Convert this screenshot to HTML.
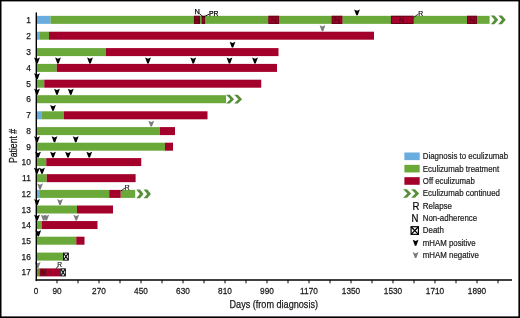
<!DOCTYPE html><html><head><meta charset="utf-8"><style>html,body{margin:0;padding:0;background:#fff;overflow:hidden;}svg{display:block;will-change:transform;}</style></head><body>
<svg width="520" height="318" viewBox="0 0 520 318">
<rect width="520" height="318" fill="#fff"/>
<rect x="37.00" y="15.85" width="13.50" height="8.0" fill="#68ace0"/>
<rect x="50.50" y="15.85" width="143.50" height="8.0" fill="#6aa83a"/>
<rect x="194.00" y="15.85" width="6.00" height="8.0" fill="#a3002b"/>
<rect x="200.00" y="15.85" width="1.70" height="8.0" fill="#6aa83a"/>
<rect x="201.70" y="15.85" width="3.30" height="8.0" fill="#a3002b"/>
<rect x="205.00" y="15.85" width="63.50" height="8.0" fill="#6aa83a"/>
<rect x="268.50" y="15.85" width="10.50" height="8.0" fill="#a3002b"/>
<rect x="279.00" y="15.85" width="52.70" height="8.0" fill="#6aa83a"/>
<rect x="331.70" y="15.85" width="10.60" height="8.0" fill="#a3002b"/>
<rect x="342.30" y="15.85" width="48.70" height="8.0" fill="#6aa83a"/>
<rect x="391.00" y="15.85" width="22.50" height="8.0" fill="#a3002b"/>
<rect x="413.50" y="15.85" width="53.60" height="8.0" fill="#6aa83a"/>
<rect x="467.10" y="15.85" width="9.80" height="8.0" fill="#a3002b"/>
<rect x="476.90" y="15.85" width="12.70" height="8.0" fill="#6aa83a"/>
<rect x="37.00" y="31.70" width="3.00" height="8.0" fill="#68ace0"/>
<rect x="40.00" y="31.70" width="9.00" height="8.0" fill="#6aa83a"/>
<rect x="49.00" y="31.70" width="325.00" height="8.0" fill="#a3002b"/>
<rect x="37.00" y="48.10" width="69.00" height="8.0" fill="#6aa83a"/>
<rect x="106.00" y="48.10" width="172.50" height="8.0" fill="#a3002b"/>
<rect x="37.00" y="63.90" width="19.75" height="8.0" fill="#6aa83a"/>
<rect x="56.75" y="63.90" width="220.25" height="8.0" fill="#a3002b"/>
<rect x="37.00" y="79.70" width="7.25" height="8.0" fill="#6aa83a"/>
<rect x="44.25" y="79.70" width="217.00" height="8.0" fill="#a3002b"/>
<rect x="37.00" y="95.20" width="189.10" height="8.0" fill="#6aa83a"/>
<rect x="37.00" y="111.30" width="4.25" height="8.0" fill="#68ace0"/>
<rect x="41.25" y="111.30" width="22.50" height="8.0" fill="#6aa83a"/>
<rect x="63.75" y="111.30" width="143.75" height="8.0" fill="#a3002b"/>
<rect x="37.00" y="127.10" width="123.00" height="8.0" fill="#6aa83a"/>
<rect x="160.00" y="127.10" width="15.00" height="8.0" fill="#a3002b"/>
<rect x="37.00" y="142.70" width="128.00" height="8.0" fill="#6aa83a"/>
<rect x="165.00" y="142.70" width="8.00" height="8.0" fill="#a3002b"/>
<rect x="37.00" y="158.10" width="9.25" height="8.0" fill="#6aa83a"/>
<rect x="46.25" y="158.10" width="95.00" height="8.0" fill="#a3002b"/>
<rect x="37.00" y="174.15" width="9.75" height="8.0" fill="#6aa83a"/>
<rect x="46.75" y="174.15" width="88.85" height="8.0" fill="#a3002b"/>
<rect x="37.00" y="189.90" width="3.00" height="8.0" fill="#68ace0"/>
<rect x="40.00" y="189.90" width="69.20" height="8.0" fill="#6aa83a"/>
<rect x="109.20" y="189.90" width="11.60" height="8.0" fill="#a3002b"/>
<rect x="120.80" y="189.90" width="14.40" height="8.0" fill="#6aa83a"/>
<rect x="37.00" y="205.50" width="40.00" height="8.0" fill="#6aa83a"/>
<rect x="77.00" y="205.50" width="36.00" height="8.0" fill="#a3002b"/>
<rect x="37.00" y="221.05" width="5.00" height="8.0" fill="#6aa83a"/>
<rect x="42.00" y="221.05" width="55.50" height="8.0" fill="#a3002b"/>
<rect x="37.00" y="236.70" width="39.25" height="8.0" fill="#6aa83a"/>
<rect x="76.25" y="236.70" width="8.25" height="8.0" fill="#a3002b"/>
<rect x="37.00" y="252.60" width="26.00" height="8.0" fill="#6aa83a"/>
<rect x="37.00" y="268.40" width="2.40" height="8.0" fill="#7f8a30"/>
<rect x="39.40" y="268.40" width="7.60" height="8.0" fill="#8c0824"/>
<rect x="47.00" y="268.40" width="13.30" height="8.0" fill="#a3002b"/>
<rect x="194.40" y="16.25" width="5.20" height="7.20" fill="#a8002c" stroke="#5e0414" stroke-width="0.9"/>
<rect x="202.10" y="16.25" width="2.50" height="7.20" fill="#a8002c" stroke="#5e0414" stroke-width="0.9"/>
<rect x="268.90" y="16.25" width="9.70" height="7.20" fill="#a8002c" stroke="#5e0414" stroke-width="0.9"/>
<rect x="332.10" y="16.25" width="9.80" height="7.20" fill="#a8002c" stroke="#5e0414" stroke-width="0.9"/>
<rect x="391.40" y="16.25" width="21.70" height="7.20" fill="#a8002c" stroke="#5e0414" stroke-width="0.9"/>
<rect x="467.50" y="16.25" width="9.00" height="7.20" fill="#a8002c" stroke="#5e0414" stroke-width="0.9"/>
<path d="M195.80 22.45V17.25L198.20 22.45V17.25" fill="none" stroke="#640818" stroke-width="1.3" stroke-linejoin="round"/>
<path d="M271.65 22.45V17.25L275.85 22.45V17.25" fill="none" stroke="#640818" stroke-width="1.3" stroke-linejoin="round"/>
<path d="M334.88 22.45V17.25L339.12 22.45V17.25" fill="none" stroke="#640818" stroke-width="1.3" stroke-linejoin="round"/>
<path d="M399.70 22.45V17.25L403.30 22.45V17.25" fill="none" stroke="#640818" stroke-width="1.3" stroke-linejoin="round"/>
<path d="M470.04 22.45V17.25L473.96 22.45V17.25" fill="none" stroke="#640818" stroke-width="1.3" stroke-linejoin="round"/>
<path d="M41.68 275.00V269.80L44.72 275.00V269.80" fill="none" stroke="#640818" stroke-width="1.3" stroke-linejoin="round"/>
<polygon points="490.80,15.50 494.50,15.50 498.25,19.85 494.50,24.20 490.80,24.20 494.55,19.85" fill="#578e3a"/>
<polygon points="498.25,15.50 501.95,15.50 505.70,19.85 501.95,24.20 498.25,24.20 502.00,19.85" fill="#578e3a"/>
<polygon points="226.10,94.85 229.80,94.85 234.10,99.20 229.80,103.55 226.10,103.55 230.40,99.20" fill="#578e3a"/>
<polygon points="234.10,94.85 237.80,94.85 242.10,99.20 237.80,103.55 234.10,103.55 238.40,99.20" fill="#578e3a"/>
<polygon points="136.30,189.55 140.00,189.55 143.60,193.90 140.00,198.25 136.30,198.25 139.90,193.90" fill="#578e3a"/>
<polygon points="143.60,189.55 147.30,189.55 150.90,193.90 147.30,198.25 143.60,198.25 147.20,193.90" fill="#578e3a"/>
<rect x="63.45" y="253.05" width="4.90" height="7.10" fill="#fff" stroke="#000" stroke-width="0.9"/><path d="M63.60 253.20L68.20 260.00M68.20 253.20L63.60 260.00" stroke="#000" stroke-width="1.1"/>
<rect x="60.75" y="268.85" width="4.60" height="7.10" fill="#fff" stroke="#000" stroke-width="0.9"/><path d="M60.90 269.00L65.20 275.80M65.20 269.00L60.90 275.80" stroke="#000" stroke-width="1.1"/>
<polygon points="354.10,9.45 357.00,10.75 359.90,9.45 357.70,15.35 356.30,15.35" fill="#000"/>
<polygon points="319.60,25.30 322.50,26.60 325.40,25.30 323.20,31.20 321.80,31.20" fill="#7c7c7c"/>
<polygon points="229.60,41.70 232.50,43.00 235.40,41.70 233.20,47.60 231.80,47.60" fill="#000"/>
<polygon points="34.10,57.50 37.00,58.80 39.90,57.50 37.70,63.40 36.30,63.40" fill="#000"/>
<polygon points="55.10,57.50 58.00,58.80 60.90,57.50 58.70,63.40 57.30,63.40" fill="#000"/>
<polygon points="87.10,57.50 90.00,58.80 92.90,57.50 90.70,63.40 89.30,63.40" fill="#000"/>
<polygon points="145.10,57.50 148.00,58.80 150.90,57.50 148.70,63.40 147.30,63.40" fill="#000"/>
<polygon points="190.35,57.50 193.25,58.80 196.15,57.50 193.95,63.40 192.55,63.40" fill="#000"/>
<polygon points="226.60,57.50 229.50,58.80 232.40,57.50 230.20,63.40 228.80,63.40" fill="#000"/>
<polygon points="252.10,57.50 255.00,58.80 257.90,57.50 255.70,63.40 254.30,63.40" fill="#000"/>
<polygon points="34.10,73.30 37.00,74.60 39.90,73.30 37.70,79.20 36.30,79.20" fill="#000"/>
<polygon points="34.10,88.80 37.00,90.10 39.90,88.80 37.70,94.70 36.30,94.70" fill="#000"/>
<polygon points="54.10,88.80 57.00,90.10 59.90,88.80 57.70,94.70 56.30,94.70" fill="#000"/>
<polygon points="67.85,88.80 70.75,90.10 73.65,88.80 71.45,94.70 70.05,94.70" fill="#000"/>
<polygon points="50.10,104.90 53.00,106.20 55.90,104.90 53.70,110.80 52.30,110.80" fill="#000"/>
<polygon points="148.35,120.70 151.25,122.00 154.15,120.70 151.95,126.60 150.55,126.60" fill="#7c7c7c"/>
<polygon points="34.10,136.30 37.00,137.60 39.90,136.30 37.70,142.20 36.30,142.20" fill="#000"/>
<polygon points="51.60,136.30 54.50,137.60 57.40,136.30 55.20,142.20 53.80,142.20" fill="#000"/>
<polygon points="72.85,136.30 75.75,137.60 78.65,136.30 76.45,142.20 75.05,142.20" fill="#000"/>
<polygon points="35.10,151.70 38.00,153.00 40.90,151.70 38.70,157.60 37.30,157.60" fill="#000"/>
<polygon points="50.10,151.70 53.00,153.00 55.90,151.70 53.70,157.60 52.30,157.60" fill="#000"/>
<polygon points="65.10,151.70 68.00,153.00 70.90,151.70 68.70,157.60 67.30,157.60" fill="#000"/>
<polygon points="86.35,151.70 89.25,153.00 92.15,151.70 89.95,157.60 88.55,157.60" fill="#000"/>
<polygon points="34.00,167.75 36.90,169.05 39.80,167.75 37.60,173.65 36.20,173.65" fill="#000"/>
<polygon points="39.10,167.75 42.00,169.05 44.90,167.75 42.70,173.65 41.30,173.65" fill="#000"/>
<polygon points="37.10,183.50 40.00,184.80 42.90,183.50 40.70,189.40 39.30,189.40" fill="#7c7c7c"/>
<polygon points="34.10,199.10 37.00,200.40 39.90,199.10 37.70,205.00 36.30,205.00" fill="#000"/>
<polygon points="57.10,199.10 60.00,200.40 62.90,199.10 60.70,205.00 59.30,205.00" fill="#7c7c7c"/>
<polygon points="34.10,214.65 37.00,215.95 39.90,214.65 37.70,220.55 36.30,220.55" fill="#000"/>
<polygon points="40.85,214.65 43.75,215.95 46.65,214.65 44.45,220.55 43.05,220.55" fill="#7c7c7c"/>
<polygon points="43.35,214.65 46.25,215.95 49.15,214.65 46.95,220.55 45.55,220.55" fill="#7c7c7c"/>
<polygon points="73.35,214.65 76.25,215.95 79.15,214.65 76.95,220.55 75.55,220.55" fill="#7c7c7c"/>
<polygon points="35.35,230.30 38.25,231.60 41.15,230.30 38.95,236.20 37.55,236.20" fill="#000"/>
<polygon points="34.80,262.00 37.70,263.30 40.60,262.00 38.40,267.90 37.00,267.90" fill="#7c7c7c"/>
<line x1="36.3" y1="13" x2="36.3" y2="280.6" stroke="#000" stroke-width="1.4" stroke-linecap="round"/>
<line x1="35.7" y1="279.9" x2="512" y2="279.9" stroke="#000" stroke-width="1.5"/>
<line x1="57.00" y1="280" x2="57.00" y2="283.3" stroke="#000" stroke-width="1"/>
<line x1="78.00" y1="280" x2="78.00" y2="283.3" stroke="#000" stroke-width="1"/>
<line x1="99.00" y1="280" x2="99.00" y2="283.3" stroke="#000" stroke-width="1"/>
<line x1="120.00" y1="280" x2="120.00" y2="283.3" stroke="#000" stroke-width="1"/>
<line x1="141.00" y1="280" x2="141.00" y2="283.3" stroke="#000" stroke-width="1"/>
<line x1="162.00" y1="280" x2="162.00" y2="283.3" stroke="#000" stroke-width="1"/>
<line x1="183.00" y1="280" x2="183.00" y2="283.3" stroke="#000" stroke-width="1"/>
<line x1="204.00" y1="280" x2="204.00" y2="283.3" stroke="#000" stroke-width="1"/>
<line x1="225.00" y1="280" x2="225.00" y2="283.3" stroke="#000" stroke-width="1"/>
<line x1="246.00" y1="280" x2="246.00" y2="283.3" stroke="#000" stroke-width="1"/>
<line x1="267.00" y1="280" x2="267.00" y2="283.3" stroke="#000" stroke-width="1"/>
<line x1="288.00" y1="280" x2="288.00" y2="283.3" stroke="#000" stroke-width="1"/>
<line x1="309.00" y1="280" x2="309.00" y2="283.3" stroke="#000" stroke-width="1"/>
<line x1="330.00" y1="280" x2="330.00" y2="283.3" stroke="#000" stroke-width="1"/>
<line x1="351.00" y1="280" x2="351.00" y2="283.3" stroke="#000" stroke-width="1"/>
<line x1="372.00" y1="280" x2="372.00" y2="283.3" stroke="#000" stroke-width="1"/>
<line x1="393.00" y1="280" x2="393.00" y2="283.3" stroke="#000" stroke-width="1"/>
<line x1="414.00" y1="280" x2="414.00" y2="283.3" stroke="#000" stroke-width="1"/>
<line x1="435.00" y1="280" x2="435.00" y2="283.3" stroke="#000" stroke-width="1"/>
<line x1="456.00" y1="280" x2="456.00" y2="283.3" stroke="#000" stroke-width="1"/>
<line x1="477.00" y1="280" x2="477.00" y2="283.3" stroke="#000" stroke-width="1"/>
<line x1="498.00" y1="280" x2="498.00" y2="283.3" stroke="#000" stroke-width="1"/>
<text x="36.00" y="294.00" font-family="Liberation Sans, sans-serif" font-size="9" fill="#1a1a1a" stroke="#1a1a1a" stroke-width="0.25" text-anchor="middle" transform="translate(36.00 0) scale(0.92 1) translate(-36.00 0)">0</text>
<text x="57.00" y="294.00" font-family="Liberation Sans, sans-serif" font-size="9" fill="#1a1a1a" stroke="#1a1a1a" stroke-width="0.25" text-anchor="middle" transform="translate(57.00 0) scale(0.92 1) translate(-57.00 0)">90</text>
<text x="99.00" y="294.00" font-family="Liberation Sans, sans-serif" font-size="9" fill="#1a1a1a" stroke="#1a1a1a" stroke-width="0.25" text-anchor="middle" transform="translate(99.00 0) scale(0.92 1) translate(-99.00 0)">270</text>
<text x="141.00" y="294.00" font-family="Liberation Sans, sans-serif" font-size="9" fill="#1a1a1a" stroke="#1a1a1a" stroke-width="0.25" text-anchor="middle" transform="translate(141.00 0) scale(0.92 1) translate(-141.00 0)">450</text>
<text x="183.00" y="294.00" font-family="Liberation Sans, sans-serif" font-size="9" fill="#1a1a1a" stroke="#1a1a1a" stroke-width="0.25" text-anchor="middle" transform="translate(183.00 0) scale(0.92 1) translate(-183.00 0)">630</text>
<text x="225.00" y="294.00" font-family="Liberation Sans, sans-serif" font-size="9" fill="#1a1a1a" stroke="#1a1a1a" stroke-width="0.25" text-anchor="middle" transform="translate(225.00 0) scale(0.92 1) translate(-225.00 0)">810</text>
<text x="267.00" y="294.00" font-family="Liberation Sans, sans-serif" font-size="9" fill="#1a1a1a" stroke="#1a1a1a" stroke-width="0.25" text-anchor="middle" transform="translate(267.00 0) scale(0.92 1) translate(-267.00 0)">990</text>
<text x="309.00" y="294.00" font-family="Liberation Sans, sans-serif" font-size="9" fill="#1a1a1a" stroke="#1a1a1a" stroke-width="0.25" text-anchor="middle" transform="translate(309.00 0) scale(0.92 1) translate(-309.00 0)">1170</text>
<text x="351.00" y="294.00" font-family="Liberation Sans, sans-serif" font-size="9" fill="#1a1a1a" stroke="#1a1a1a" stroke-width="0.25" text-anchor="middle" transform="translate(351.00 0) scale(0.92 1) translate(-351.00 0)">1350</text>
<text x="393.00" y="294.00" font-family="Liberation Sans, sans-serif" font-size="9" fill="#1a1a1a" stroke="#1a1a1a" stroke-width="0.25" text-anchor="middle" transform="translate(393.00 0) scale(0.92 1) translate(-393.00 0)">1530</text>
<text x="435.00" y="294.00" font-family="Liberation Sans, sans-serif" font-size="9" fill="#1a1a1a" stroke="#1a1a1a" stroke-width="0.25" text-anchor="middle" transform="translate(435.00 0) scale(0.92 1) translate(-435.00 0)">1710</text>
<text x="477.00" y="294.00" font-family="Liberation Sans, sans-serif" font-size="9" fill="#1a1a1a" stroke="#1a1a1a" stroke-width="0.25" text-anchor="middle" transform="translate(477.00 0) scale(0.92 1) translate(-477.00 0)">1890</text>
<text x="30.80" y="22.85" font-family="Liberation Sans, sans-serif" font-size="8.4" fill="#1a1a1a" stroke="#1a1a1a" stroke-width="0.25" text-anchor="end">1</text>
<text x="30.80" y="38.70" font-family="Liberation Sans, sans-serif" font-size="8.4" fill="#1a1a1a" stroke="#1a1a1a" stroke-width="0.25" text-anchor="end">2</text>
<text x="30.80" y="55.10" font-family="Liberation Sans, sans-serif" font-size="8.4" fill="#1a1a1a" stroke="#1a1a1a" stroke-width="0.25" text-anchor="end">3</text>
<text x="30.80" y="70.90" font-family="Liberation Sans, sans-serif" font-size="8.4" fill="#1a1a1a" stroke="#1a1a1a" stroke-width="0.25" text-anchor="end">4</text>
<text x="30.80" y="86.70" font-family="Liberation Sans, sans-serif" font-size="8.4" fill="#1a1a1a" stroke="#1a1a1a" stroke-width="0.25" text-anchor="end">5</text>
<text x="30.80" y="102.20" font-family="Liberation Sans, sans-serif" font-size="8.4" fill="#1a1a1a" stroke="#1a1a1a" stroke-width="0.25" text-anchor="end">6</text>
<text x="30.80" y="118.30" font-family="Liberation Sans, sans-serif" font-size="8.4" fill="#1a1a1a" stroke="#1a1a1a" stroke-width="0.25" text-anchor="end">7</text>
<text x="30.80" y="134.10" font-family="Liberation Sans, sans-serif" font-size="8.4" fill="#1a1a1a" stroke="#1a1a1a" stroke-width="0.25" text-anchor="end">8</text>
<text x="30.80" y="149.70" font-family="Liberation Sans, sans-serif" font-size="8.4" fill="#1a1a1a" stroke="#1a1a1a" stroke-width="0.25" text-anchor="end">9</text>
<text x="30.80" y="165.10" font-family="Liberation Sans, sans-serif" font-size="8.4" fill="#1a1a1a" stroke="#1a1a1a" stroke-width="0.25" text-anchor="end">10</text>
<text x="30.80" y="181.15" font-family="Liberation Sans, sans-serif" font-size="8.4" fill="#1a1a1a" stroke="#1a1a1a" stroke-width="0.25" text-anchor="end">11</text>
<text x="30.80" y="196.90" font-family="Liberation Sans, sans-serif" font-size="8.4" fill="#1a1a1a" stroke="#1a1a1a" stroke-width="0.25" text-anchor="end">12</text>
<text x="30.80" y="212.50" font-family="Liberation Sans, sans-serif" font-size="8.4" fill="#1a1a1a" stroke="#1a1a1a" stroke-width="0.25" text-anchor="end">13</text>
<text x="30.80" y="228.05" font-family="Liberation Sans, sans-serif" font-size="8.4" fill="#1a1a1a" stroke="#1a1a1a" stroke-width="0.25" text-anchor="end">14</text>
<text x="30.80" y="243.70" font-family="Liberation Sans, sans-serif" font-size="8.4" fill="#1a1a1a" stroke="#1a1a1a" stroke-width="0.25" text-anchor="end">15</text>
<text x="30.80" y="259.60" font-family="Liberation Sans, sans-serif" font-size="8.4" fill="#1a1a1a" stroke="#1a1a1a" stroke-width="0.25" text-anchor="end">16</text>
<text x="30.80" y="275.40" font-family="Liberation Sans, sans-serif" font-size="8.4" fill="#1a1a1a" stroke="#1a1a1a" stroke-width="0.25" text-anchor="end">17</text>
<text x="0" y="0" font-family="Liberation Sans, sans-serif" font-size="11.6" fill="#1a1a1a" stroke="#1a1a1a" stroke-width="0.3" text-anchor="middle" transform="translate(17.1 146.0) rotate(-90)" textLength="34.2" lengthAdjust="spacingAndGlyphs">Patient #</text>
<text x="229.50" y="308.00" font-family="Liberation Sans, sans-serif" font-size="10.3" fill="#1a1a1a" stroke="#1a1a1a" stroke-width="0.25" textLength="88.5" lengthAdjust="spacingAndGlyphs">Days (from diagnosis)</text>
<text x="194.6" y="14.4" font-family="Liberation Sans, sans-serif" font-size="7.4" fill="#000" stroke="#000" stroke-width="0.25">N</text>
<text x="209" y="16.1" font-family="Liberation Sans, sans-serif" font-size="6.8" fill="#000" stroke="#000" stroke-width="0.25">PR</text>
<path d="M199.6 13.6L203 17.2L209.2 14.2" stroke="#000" stroke-width="0.9" fill="none"/>
<text x="418.2" y="15.9" font-family="Liberation Sans, sans-serif" font-size="6.8" fill="#000" stroke="#000" stroke-width="0.15">R</text>
<path d="M413.6 17.5L418.4 14" stroke="#000" stroke-width="0.8" fill="none"/>
<text x="124.7" y="189.6" font-family="Liberation Sans, sans-serif" font-size="6.8" fill="#000" stroke="#000" stroke-width="0.15">R</text>
<path d="M120.8 191L125 188" stroke="#000" stroke-width="0.8" fill="none"/>
<text x="57.3" y="267.2" font-family="Liberation Sans, sans-serif" font-size="6.6" fill="#000" stroke="#000" stroke-width="0.1">R</text>
<path d="M55.8 268.6L58 266.6" stroke="#000" stroke-width="0.8" fill="none"/>
<rect x="404.4" y="152.50" width="15.3" height="7.6" fill="#68ace0"/>
<rect x="404.4" y="164.84" width="15.3" height="7.6" fill="#6aa83a"/>
<rect x="404.4" y="177.18" width="15.3" height="7.6" fill="#a3002b"/>
<polygon points="403.10,189.22 406.90,189.22 411.15,193.52 406.90,197.82 403.10,197.82 407.35,193.52" fill="#578e3a"/>
<polygon points="411.15,189.22 414.95,189.22 419.20,193.52 414.95,197.82 411.15,197.82 415.40,193.52" fill="#578e3a"/>
<text x="412.4" y="209.56" font-family="Liberation Sans, sans-serif" font-size="10.6" fill="#000" stroke="#000" stroke-width="0.2" textLength="6.9" lengthAdjust="spacingAndGlyphs">R</text>
<text x="411.6" y="221.90" font-family="Liberation Sans, sans-serif" font-size="10.6" fill="#000" stroke="#000" stroke-width="0.2" textLength="6.9" lengthAdjust="spacingAndGlyphs">N</text>
<rect x="411.10" y="226.74" width="7.30" height="7.60" fill="#fff" stroke="#000" stroke-width="1.2"/><path d="M411.10 226.74L418.40 234.34M418.40 226.74L411.10 234.34" stroke="#000" stroke-width="1.3"/>
<polygon points="412.70,239.78 415.60,241.08 418.50,239.78 416.30,245.68 414.90,245.68" fill="#000"/>
<polygon points="412.70,252.12 415.60,253.42 418.50,252.12 416.30,258.02 414.90,258.02" fill="#7c7c7c"/>
<text x="422.80" y="159.30" font-family="Liberation Sans, sans-serif" font-size="8.7" fill="#1a1a1a" stroke="#1a1a1a" stroke-width="0.2" textLength="85.3" lengthAdjust="spacingAndGlyphs">Diagnosis to eculizumab</text>
<text x="422.80" y="171.64" font-family="Liberation Sans, sans-serif" font-size="8.7" fill="#1a1a1a" stroke="#1a1a1a" stroke-width="0.2" textLength="76.4" lengthAdjust="spacingAndGlyphs">Eculizumab treatment</text>
<text x="422.80" y="183.98" font-family="Liberation Sans, sans-serif" font-size="8.7" fill="#1a1a1a" stroke="#1a1a1a" stroke-width="0.2" textLength="52" lengthAdjust="spacingAndGlyphs">Off eculizumab</text>
<text x="422.80" y="196.32" font-family="Liberation Sans, sans-serif" font-size="8.7" fill="#1a1a1a" stroke="#1a1a1a" stroke-width="0.2" textLength="77.1" lengthAdjust="spacingAndGlyphs">Eculizumab continued</text>
<text x="422.80" y="208.66" font-family="Liberation Sans, sans-serif" font-size="8.7" fill="#1a1a1a" stroke="#1a1a1a" stroke-width="0.2" textLength="29.2" lengthAdjust="spacingAndGlyphs">Relapse</text>
<text x="422.80" y="221.00" font-family="Liberation Sans, sans-serif" font-size="8.7" fill="#1a1a1a" stroke="#1a1a1a" stroke-width="0.2" textLength="54.3" lengthAdjust="spacingAndGlyphs">Non-adherence</text>
<text x="422.80" y="233.34" font-family="Liberation Sans, sans-serif" font-size="8.7" fill="#1a1a1a" stroke="#1a1a1a" stroke-width="0.2" textLength="21.1" lengthAdjust="spacingAndGlyphs">Death</text>
<text x="422.80" y="245.68" font-family="Liberation Sans, sans-serif" font-size="8.7" fill="#1a1a1a" stroke="#1a1a1a" stroke-width="0.2" textLength="52.7" lengthAdjust="spacingAndGlyphs">mHAM positive</text>
<text x="422.80" y="258.02" font-family="Liberation Sans, sans-serif" font-size="8.7" fill="#1a1a1a" stroke="#1a1a1a" stroke-width="0.2" textLength="56.1" lengthAdjust="spacingAndGlyphs">mHAM negative</text>
<rect x="0" y="0" width="520" height="1.4" fill="#000"/>
<rect x="0" y="0" width="1.5" height="318" fill="#000"/>
<rect x="518.4" y="0" width="1.6" height="318" fill="#000"/>
<rect x="0" y="316.4" width="520" height="1.6" fill="#000"/>
</svg></body></html>
